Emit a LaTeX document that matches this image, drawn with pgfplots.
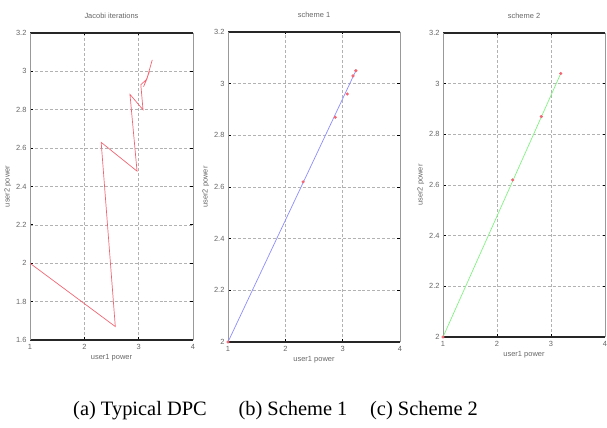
\documentclass[border=0pt]{standalone}
\usepackage{pgfplots}
\pgfplotsset{compat=1.18}
\usepackage{fontspec}
\setmainfont{Liberation Sans}
\newfontfamily\capfont{Liberation Serif}
\definecolor{lred}{rgb}{0.95,0.4,0.45}
\definecolor{lblue}{rgb}{0.55,0.55,1}
\definecolor{lgreen}{rgb}{0.5,0.95,0.5}
\definecolor{tk}{rgb}{0.4,0.4,0.4}
\begin{document}
\begin{tikzpicture}
\useasboundingbox (0,0) rectangle (607bp,428bp);
\pgfplotsset{
  myax/.style={
    scale only axis,
    separate axis lines,
    x axis line style={black!85, line width=1.6pt},
    y axis line style={gray!80, line width=1pt},
    xmin=1, xmax=4, xtick={1,2,3,4},
    grid=major,
    major grid style={densely dashed, gray!60, line width=0.5pt},
    tick align=inside,
    major tick length=2.5bp,
    tick style={black, line width=0.8pt},
    /pgf/number format/assume math mode=true,
    tick label style={font=\fontsize{7.5}{8}\selectfont, text=tk},
    xticklabel style={yshift=-1bp},
    label style={font=\fontsize{7.5}{8}\selectfont, text=tk},
    title style={font=\fontsize{7.5}{8}\selectfont, text=tk, yshift=5bp},
    xlabel={user1 power},
    ylabel={user2 power},
    xlabel style={yshift=2bp},
    ylabel style={yshift=-2bp},
  }
}
% (a)
\begin{axis}[myax, at={(30bp,88bp)}, anchor=south west,
  width=163bp, height=307bp,
  ymin=1.6, ymax=3.2, ytick={1.6,1.8,2,2.2,2.4,2.6,2.8,3,3.2},
  title={Jacobi iterations}]
\addplot[lred, line width=0.7pt] coordinates {
  (1,2.0) (2.57,1.67) (2.31,2.63) (2.97,2.48) (2.84,2.88) (3.08,2.80)
  (3.04,2.93) (3.15,2.96) (3.09,2.92) (3.2,3.0) (3.16,2.97) (3.23,3.04) (3.25,3.06)
};
\end{axis}
% (b)
\begin{axis}[myax, at={(228bp,86bp)}, anchor=south west,
  width=172bp, height=310bp,
  ymin=2, ymax=3.2, ytick={2,2.2,2.4,2.6,2.8,3,3.2},
  title={scheme 1}]
\addplot[lblue, line width=0.7pt] coordinates {(1,2.0) (3.23,3.05)};
\addplot[only marks, mark=*, mark size=1.4pt, lred] coordinates {
  (1,2.0) (2.31,2.62) (2.87,2.87) (3.08,2.96) (3.18,3.03) (3.23,3.05)
};
\end{axis}
% (c)
\begin{axis}[myax, at={(443bp,91bp)}, anchor=south west,
  width=162bp, height=304bp,
  ymin=2, ymax=3.2, ytick={2,2.2,2.4,2.6,2.8,3,3.2},
  title={scheme 2}]
\addplot[lgreen, line width=0.7pt] coordinates {(1,2.0) (3.18,3.04)};
\addplot[only marks, mark=*, mark size=1.4pt, lred] coordinates {
  (1,2.0) (2.29,2.62) (2.82,2.87) (3.18,3.04)
};
\end{axis}
\node[anchor=base, font=\capfont\fontsize{20.5}{23}\selectfont] at (140bp,13bp) {(a) Typical DPC};
\node[anchor=base, font=\capfont\fontsize{20.5}{23}\selectfont] at (293bp,13bp) {(b) Scheme 1};
\node[anchor=base, font=\capfont\fontsize{20.5}{23}\selectfont] at (424bp,13bp) {(c) Scheme 2};
\end{tikzpicture}
\end{document}
